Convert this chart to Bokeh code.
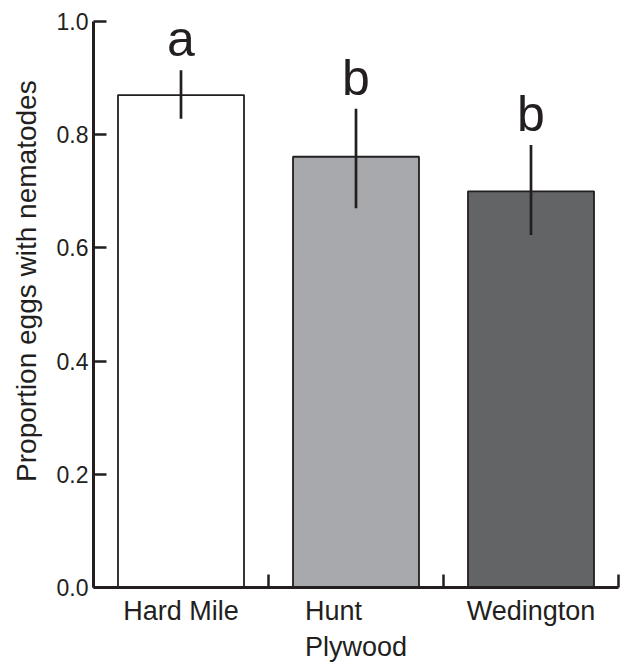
from bokeh.plotting import figure
from bokeh.models import ColumnDataSource, Range1d, FixedTicker, NumeralTickFormatter
from bokeh.core.properties import value
from bokeh.embed import file_html
from bokeh.resources import INLINE

categories = ["Hard Mile", "Hunt Plywood", "Wedington"]
axis_labels = ["Hard Mile", "Hunt\u00a0\u00a0\u00a0\u00a0\u00a0\u00a0\nPlywood", "Wedington"]
proportions = [0.870, 0.761, 0.700]
err_lower = [0.828, 0.670, 0.623]
err_upper = [0.914, 0.846, 0.782]
letters = ["a", "b", "b"]
bar_colors = ["#ffffff", "#a7a9ac", "#636466"]
y_ticks = [0.0, 0.2, 0.4, 0.6, 0.8, 1.0]

INK = "#231f20"
FONT = "Liberation Sans"

xpos = [i + 0.5 for i in range(len(categories))]
letter_y = [u + 0.055 for u in err_upper]

src = ColumnDataSource(dict(x=xpos, top=proportions, lower=err_lower, upper=err_upper,
                            color=bar_colors, letter=letters, ly=letter_y, cat=categories))

p = figure(width=622, height=664, output_backend="svg", toolbar_location=None,
           x_range=Range1d(0, len(categories)), y_range=Range1d(0, 1.0),
           min_border_left=93, min_border_right=4, min_border_top=21, min_border_bottom=73)
p.background_fill_color = "white"
p.border_fill_color = "white"
p.outline_line_color = None
p.xgrid.grid_line_color = None
p.ygrid.grid_line_color = None

p.vbar(x="x", top="top", bottom=0, width=0.72, fill_color="color",
       line_color=INK, line_width=1.8, source=src)

p.segment(x0="x", y0="lower", x1="x", y1="upper", line_color=INK, line_width=2.7, source=src)

p.text(x="x", y="ly", text="letter", text_align="center", text_baseline="alphabetic",
       text_font=value(FONT), text_font_size="50px", text_color=INK, source=src)

# y axis
ya = p.yaxis[0]
ya.ticker = FixedTicker(ticks=y_ticks)
ya.formatter = NumeralTickFormatter(format="0.0")
ya.axis_line_color = INK
ya.axis_line_width = 3
ya.major_tick_line_color = INK
ya.major_tick_line_width = 2.5
ya.major_tick_in = 13
ya.major_tick_out = 0
ya.minor_tick_line_color = None
ya.major_label_text_font = FONT
ya.major_label_text_font_size = "23px"
ya.major_label_text_color = INK
ya.major_label_standoff = 5
ya.axis_label = "\u00a0" * 6 + "Proportion eggs with nematodes"
ya.axis_label_text_font = FONT
ya.axis_label_text_font_size = "28px"
ya.axis_label_text_font_style = "normal"
ya.axis_label_text_color = INK
ya.axis_label_standoff = 12

# x axis
xa = p.xaxis[0]
xa.ticker = FixedTicker(ticks=xpos, minor_ticks=list(range(len(categories) + 1)))
xa.major_label_overrides = {x: lab for x, lab in zip(xpos, axis_labels)}
xa.axis_line_color = INK
xa.axis_line_width = 3
xa.major_tick_line_color = None
xa.major_tick_in = 0
xa.major_tick_out = 0
xa.minor_tick_line_color = INK
xa.minor_tick_line_width = 2.5
xa.minor_tick_in = 13
xa.minor_tick_out = 0
xa.major_label_text_font = FONT
xa.major_label_text_font_size = "27px"
xa.major_label_text_color = INK
xa.major_label_standoff = 8

open("out.html", "w").write(file_html(p, INLINE))
